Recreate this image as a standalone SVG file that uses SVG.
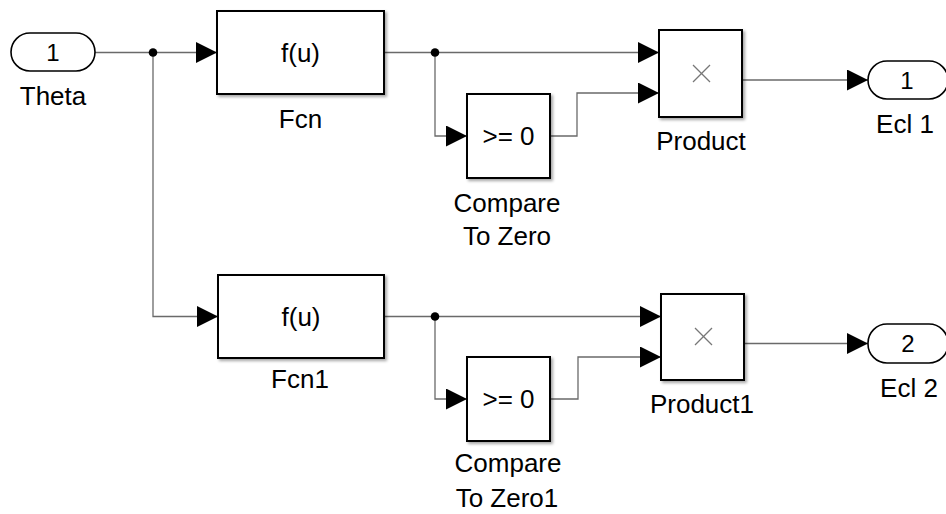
<svg xmlns="http://www.w3.org/2000/svg" width="946" height="514" viewBox="0 0 946 514">
<style>
.blk{fill:#fff;stroke:#000;stroke-width:2;filter:url(#sh)}
.port{fill:#fff;stroke:#000;stroke-width:1.6}
.lbl{font-family:"Liberation Sans",Arial,sans-serif;font-size:26px;fill:#000;text-anchor:middle}
.num{font-family:"Liberation Sans",Arial,sans-serif;font-size:24px;fill:#000;text-anchor:middle}
.sig{fill:none;stroke:#6a6a6a;stroke-width:1.3}
.x{stroke:#777;stroke-width:1.2}
</style>
<defs>
<filter id="sh" x="-10%" y="-10%" width="130%" height="130%">
<feDropShadow dx="2" dy="2" stdDeviation="1.5" flood-color="#000" flood-opacity="0.35"/>
</filter>
<marker id="arr" markerUnits="userSpaceOnUse" markerWidth="22" markerHeight="22" refX="21" refY="10.5" orient="auto">
<path d="M0,0 L21,10.5 L0,21 z" fill="#000"/>
</marker>
</defs>
<g id="connectors">
<path class="sig" d="M95,52.5 H217" marker-end="url(#arr)"/>
<path class="sig" d="M153,52.5 V316.5 H218" marker-end="url(#arr)"/>
<path class="sig" d="M384,52.5 H659" marker-end="url(#arr)"/>
<path class="sig" d="M435,52.5 V136 H467" marker-end="url(#arr)"/>
<path class="sig" d="M550,136 H577 V93 H659" marker-end="url(#arr)"/>
<path class="sig" d="M742,80 H868" marker-end="url(#arr)"/>
<path class="sig" d="M384,316.5 H661" marker-end="url(#arr)"/>
<path class="sig" d="M435,316.5 V399 H467" marker-end="url(#arr)"/>
<path class="sig" d="M550,399 H578 V357 H661" marker-end="url(#arr)"/>
<path class="sig" d="M744,343.5 H868" marker-end="url(#arr)"/>
<circle cx="153" cy="52.5" r="4.3" fill="#000"/>
<circle cx="435" cy="52.5" r="4.3" fill="#000"/>
<circle cx="435" cy="316.5" r="4.3" fill="#000"/>
</g>
<g id="Theta">
<rect class="port" x="11" y="33" width="84" height="38" rx="19" ry="19"/>
<text class="num" x="53" y="61">1</text>
<text class="lbl" x="53" y="105">Theta</text>
</g>
<g id="Fcn">
<rect class="blk" x="217" y="11" width="167" height="83"/>
<text class="lbl" x="300.5" y="62">f(u)</text>
<text class="lbl" x="300.5" y="128">Fcn</text>
</g>
<g id="CompareToZero">
<rect class="blk" x="467" y="94" width="83" height="84"/>
<text class="lbl" x="508.5" y="145">&gt;= 0</text>
<text class="lbl" x="507" y="212">Compare</text>
<text class="lbl" x="507" y="245">To Zero</text>
</g>
<g id="Product">
<rect class="blk" x="659" y="30" width="83" height="87"/>
<line class="x" x1="693" y1="65" x2="710" y2="82"/>
<line class="x" x1="710" y1="65" x2="693" y2="82"/>
<text class="lbl" x="701" y="150">Product</text>
</g>
<g id="Ecl1">
<rect class="port" x="868" y="61" width="80" height="38" rx="19" ry="19"/>
<text class="num" x="907" y="89">1</text>
<text class="lbl" x="905" y="133">Ecl 1</text>
</g>
<g id="Fcn1">
<rect class="blk" x="218" y="275" width="166" height="83"/>
<text class="lbl" x="301" y="326">f(u)</text>
<text class="lbl" x="300" y="388">Fcn1</text>
</g>
<g id="CompareToZero1">
<rect class="blk" x="467" y="357" width="83" height="84"/>
<text class="lbl" x="508.5" y="408">&gt;= 0</text>
<text class="lbl" x="508" y="472">Compare</text>
<text class="lbl" x="507" y="507">To Zero1</text>
</g>
<g id="Product1">
<rect class="blk" x="661" y="294" width="83" height="86"/>
<line class="x" x1="695" y1="328" x2="712" y2="345"/>
<line class="x" x1="712" y1="328" x2="695" y2="345"/>
<text class="lbl" x="702" y="413">Product1</text>
</g>
<g id="Ecl2">
<rect class="port" x="868" y="324" width="80" height="39" rx="19" ry="19"/>
<text class="num" x="908" y="352">2</text>
<text class="lbl" x="909" y="397">Ecl 2</text>
</g>
</svg>
